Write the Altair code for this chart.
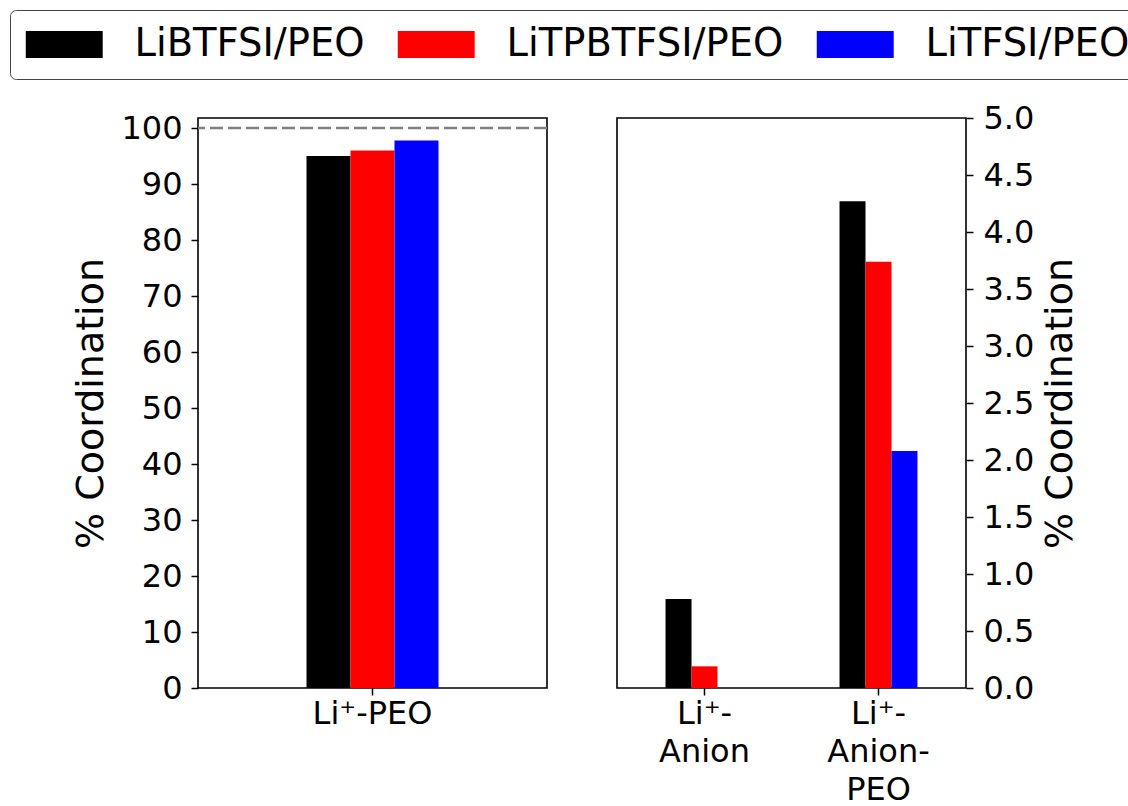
import altair as alt
import pandas as pd

# ---- data ----
series = ["LiBTFSI/PEO", "LiTPBTFSI/PEO", "LiTFSI/PEO"]
colors = ["#000000", "#ff0000", "#0000ff"]

left_cats = ["Li⁺-PEO"]
left_vals = [95.0, 96.0, 97.8]          # one value per series
ref_line = [100]

right_cat_lines = [["Li⁺-", "Anion"], ["Li⁺-", "Anion-", "PEO"]]
right_cats = ["\n".join(c) for c in right_cat_lines]
right_black = [0.78, 4.27]
right_red = [0.19, 3.74]
right_blue = [0.0, 2.08]

left_ticks = list(range(0, 101, 10))
right_ticks = [0.0, 0.5, 1.0, 1.5, 2.0, 2.5, 3.0, 3.5, 4.0, 4.5, 5.0]

# ---- tables ----
df_left = pd.DataFrame({
    "category": [left_cats[0]] * 3,
    "series": series,
    "value": left_vals,
})
rows = []
for s, vals in zip(series, [right_black, right_red, right_blue]):
    for c, v in zip(right_cats, vals):
        rows.append({"category": c, "series": s, "value": v})
df_right = pd.DataFrame(rows)
df_ref = pd.DataFrame({"value": ref_line})

FONT = "DejaVu Sans"
TICK_FS = 32
TITLE_FS = 38

color = alt.Color(
    "series:N",
    sort=series,
    scale=alt.Scale(domain=series, range=colors),
    legend=alt.Legend(
        title=None,
        orient="none",
        direction="horizontal",
        legendX=-188,
        legendY=-108,
        symbolType="M-1.37,-1H4.33V1H-1.37Z",
        symbolSize=729,
        symbolStrokeWidth=0,
        labelFontSize=38.5,
        labelFont=FONT,
        labelColor="black",
        labelOffset=71,
        labelLimit=500,
        columnPadding=32,
        padding=15,
        strokeColor="#444444",
        fillColor="white",
        cornerRadius=6,
    ),
)

x_axis_common = dict(
    title=None, labelAngle=0, labelFontSize=TICK_FS, labelFont=FONT,
    tickSize=7, tickWidth=1.5, tickColor="black", labelColor="black",
    labelPadding=3, domain=False,
)

bars_left = alt.Chart(df_left).mark_bar().encode(
    x=alt.X("category:N", sort=left_cats,
            scale=alt.Scale(paddingInner=0, paddingOuter=0.822),
            axis=alt.Axis(**x_axis_common)),
    xOffset=alt.XOffset("series:N", sort=series,
                        scale=alt.Scale(paddingInner=0, paddingOuter=0)),
    y=alt.Y("value:Q", scale=alt.Scale(domain=[0, 101.8], nice=False),
            axis=alt.Axis(title="% Coordination", values=left_ticks,
                          labelFontSize=TICK_FS, titleFontSize=TITLE_FS,
                          labelFont=FONT, titleFont=FONT, titleFontWeight="normal",
                          tickSize=7, tickWidth=1.5, tickColor="black",
                          labelColor="black", titleColor="black",
                          labelPadding=9, titlePadding=10, domain=False, grid=False)),
    color=color,
)
rule = alt.Chart(df_ref).mark_rule(color="#808080", strokeDash=[13, 5], strokeWidth=2.5).encode(
    y=alt.Y("value:Q")
)
left = alt.layer(bars_left, rule).properties(width=349, height=570)

right = alt.Chart(df_right).mark_bar().encode(
    x=alt.X("category:N", sort=right_cats,
            scale=alt.Scale(paddingInner=0.552, paddingOuter=0.279),
            axis=alt.Axis(labelExpr="split(datum.label, '\\n')", labelLineHeight=38,
                          labelBaseline="top", **x_axis_common)),
    xOffset=alt.XOffset("series:N", sort=series,
                        scale=alt.Scale(paddingInner=0, paddingOuter=0)),
    y=alt.Y("value:Q", scale=alt.Scale(domain=[0, 5], nice=False),
            axis=alt.Axis(orient="right", title="% Coordination", values=right_ticks,
                          format=".1f",
                          labelFontSize=TICK_FS, titleFontSize=TITLE_FS,
                          labelFont=FONT, titleFont=FONT, titleFontWeight="normal",
                          titleAngle=270, titleBaseline="top",
                          tickSize=7, tickWidth=1.5, tickColor="black",
                          labelColor="black", titleColor="black",
                          labelPadding=10, titlePadding=8, domain=False, grid=False)),
    color=color,
).properties(width=349, height=570)

chart = alt.hconcat(left, right, spacing=66).resolve_scale(
    color="shared", xOffset="independent"
).configure_view(
    stroke="black", strokeWidth=1.6
).properties(
    autosize=alt.AutoSizeParams(type="none"),
    padding={"left": 198, "top": 118, "right": 930, "bottom": 688},
    background="white",
)

chart.save("out.html", embed_options={"renderer": "svg", "actions": False})
